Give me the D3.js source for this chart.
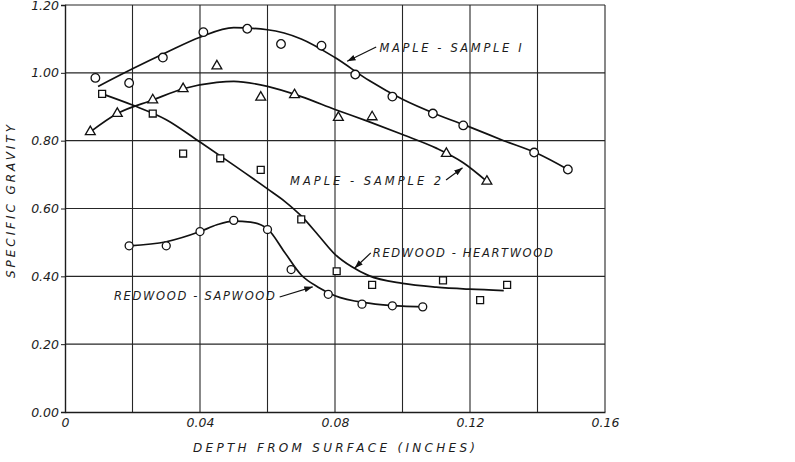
<!DOCTYPE html>
<html>
<head>
<meta charset="utf-8">
<script src="https://cdn.jsdelivr.net/npm/d3@7"></script>
<style>
  body { margin: 0; background: #fff; }
  svg text { font-family: "DejaVu Sans", sans-serif; font-style: italic; fill: #1c1c1c; }
</style>
</head>
<body>
<svg id="chart" width="795" height="462"></svg>
<script>
// tick labels and grid
const xTicks = [0, 0.04, 0.08, 0.12, 0.16];
const xGrid = [0.02, 0.04, 0.06, 0.08, 0.10, 0.12, 0.14, 0.16];
const yTicks = [0, 0.2, 0.4, 0.6, 0.8, 1.0, 1.2];

// measured points [depth, specific gravity]
const maple1Pts = [[0.009,0.985],[0.019,0.97],[0.029,1.045],[0.041,1.12],[0.054,1.13],[0.064,1.085],
  [0.076,1.08],[0.086,0.995],[0.097,0.93],[0.109,0.88],[0.118,0.845],[0.139,0.765],[0.149,0.715]];
const maple2Pts = [[0.0075,0.826],[0.0155,0.88],[0.026,0.92],[0.035,0.953],[0.045,1.02],[0.058,0.928],
  [0.068,0.935],[0.081,0.868],[0.091,0.87],[0.113,0.762],[0.125,0.68]];
const heartPts = [[0.011,0.938],[0.026,0.88],[0.035,0.762],[0.046,0.748],[0.058,0.714],[0.070,0.568],
  [0.0805,0.415],[0.091,0.375],[0.112,0.388],[0.123,0.33],[0.131,0.375]];
const sapPts = [[0.019,0.49],[0.030,0.49],[0.040,0.532],[0.050,0.565],[0.060,0.538],[0.067,0.42],
  [0.078,0.347],[0.088,0.318],[0.097,0.313],[0.106,0.31]];

// faired curves
const maple1Fit = [[0.0098,0.96],[0.02,1.012],[0.03,1.06],[0.04,1.105],[0.05,1.133],[0.06,1.127],[0.07,1.1],
  [0.08,1.045],[0.09,0.978],[0.10,0.922],[0.11,0.878],[0.12,0.84],[0.13,0.80],[0.14,0.762],[0.149,0.715]];
const maple2Fit = [[0.0075,0.826],[0.0155,0.88],[0.026,0.92],[0.035,0.953],[0.045,0.972],[0.05,0.975],[0.06,0.96],
  [0.07,0.93],[0.08,0.892],[0.09,0.856],[0.10,0.818],[0.11,0.778],[0.118,0.735],[0.125,0.68]];
const heartFit = [[0.011,0.938],[0.02,0.905],[0.03,0.862],[0.04,0.796],[0.05,0.728],[0.06,0.658],[0.065,0.622],
  [0.07,0.578],[0.075,0.522],[0.08,0.465],[0.085,0.428],[0.09,0.402],[0.10,0.379],[0.11,0.368],[0.12,0.362],[0.13,0.358]];
const sapFit = [[0.019,0.49],[0.03,0.502],[0.04,0.532],[0.045,0.552],[0.05,0.563],[0.055,0.56],[0.06,0.54],
  [0.065,0.472],[0.07,0.404],[0.075,0.368],[0.08,0.343],[0.09,0.321],[0.10,0.312],[0.106,0.31]];

const labels = ["MAPLE - SAMPLE I", "MAPLE - SAMPLE 2", "REDWOOD - HEARTWOOD", "REDWOOD - SAPWOOD"];

const svg = d3.select("#chart");
const margin = {left: 65, right: 190, top: 5, bottom: 50};
const W = 795, H = 462;

const x = d3.scaleLinear().domain([0, 0.16]).range([margin.left, W - margin.right]);
const y = d3.scaleLinear().domain([0, 1.2]).range([H - margin.bottom, margin.top]);

// grid
const grid = svg.append("g").attr("stroke", "#262626").attr("stroke-width", 1.1);
grid.selectAll(".vg").data(xGrid).enter().append("line")
  .attr("x1", d => x(d)).attr("x2", d => x(d))
  .attr("y1", y(0)).attr("y2", y(1.2));
grid.selectAll(".hg").data(yTicks.slice(1)).enter().append("line")
  .attr("x1", x(0)).attr("x2", x(0.16))
  .attr("y1", d => y(d)).attr("y2", d => y(d));

// axes
svg.append("g")
  .attr("transform", `translate(0,${y(0)})`)
  .call(d3.axisBottom(x).tickValues(xTicks).tickSize(0).tickPadding(6)
    .tickFormat(d => d === 0 ? "0" : d3.format(".2f")(d)))
  .call(g => g.select(".domain").attr("stroke", "#1c1c1c").attr("stroke-width", 1.4))
  .selectAll("text").attr("font-size", 12.5).attr("font-family", "DejaVu Sans").attr("font-style", "italic");

svg.append("g")
  .attr("transform", `translate(${x(0)},0)`)
  .call(d3.axisLeft(y).tickValues(yTicks).tickSize(4).tickPadding(2).tickFormat(d3.format(".2f")))
  .call(g => g.select(".domain").attr("stroke", "#1c1c1c").attr("stroke-width", 1.4))
  .call(g => g.selectAll(".tick line").attr("stroke", "#1c1c1c"))
  .selectAll("text").attr("font-size", 12.5).attr("font-family", "DejaVu Sans").attr("font-style", "italic");

// axis titles
svg.append("text")
  .attr("x", 193).attr("y", 452)
  .attr("font-size", 12).attr("textLength", 282).attr("lengthAdjust", "spacing")
  .text("DEPTH  FROM  SURFACE  (INCHES)");

svg.append("text")
  .attr("transform", "translate(15,278) rotate(-90)")
  .attr("font-size", 12).attr("textLength", 153).attr("lengthAdjust", "spacing")
  .text("SPECIFIC  GRAVITY");

// curves
const line = d3.line().x(d => x(d[0])).y(d => y(d[1])).curve(d3.curveMonotoneX);
[maple1Fit, maple2Fit, heartFit, sapFit].forEach(f => {
  svg.append("path").attr("d", line(f))
    .attr("fill", "none").attr("stroke", "#111").attr("stroke-width", 1.7);
});

// markers
function drawMarks(pts, type, size) {
  svg.append("g").selectAll("path").data(pts).enter().append("path")
    .attr("transform", d => `translate(${x(d[0])},${y(d[1])})`)
    .attr("d", d3.symbol().type(type).size(size))
    .attr("fill", "#fff").attr("stroke", "#111").attr("stroke-width", 1.3);
}
drawMarks(maple1Pts, d3.symbolCircle, 58);
drawMarks(maple2Pts, d3.symbolTriangle, 42);
drawMarks(heartPts, d3.symbolSquare, 48);
drawMarks(sapPts, d3.symbolCircle, 50);

// annotations: text anchor point and arrow [from, to] in data units
const notes = [
  {text: labels[0], at: [0.0932, 1.06], len: 142, arrow: [[0.0922, 1.076], [0.0836, 1.034]]},
  {text: labels[1], at: [0.0667, 0.669], len: 151, arrow: [[0.1129, 0.684], [0.1178, 0.72]]},
  {text: labels[2], at: [0.0912, 0.456], len: 180, arrow: [[0.0906, 0.469], [0.0858, 0.424]]},
  {text: labels[3], at: [0.0145, 0.331], len: 161, arrow: [[0.0636, 0.339], [0.0734, 0.369]]}
];

svg.append("defs").append("marker")
  .attr("id", "ah").attr("viewBox", "0 0 10 10").attr("refX", 10).attr("refY", 5)
  .attr("markerWidth", 7).attr("markerHeight", 7).attr("orient", "auto")
  .append("path").attr("d", "M0,1.5 L10,5 L0,8.5 Z").attr("fill", "#111");

notes.forEach(n => {
  svg.append("text")
    .attr("x", x(n.at[0])).attr("y", y(n.at[1]))
    .attr("font-size", 11.5).attr("textLength", n.len).attr("lengthAdjust", "spacing")
    .text(n.text);
  svg.append("line")
    .attr("x1", x(n.arrow[0][0])).attr("y1", y(n.arrow[0][1]))
    .attr("x2", x(n.arrow[1][0])).attr("y2", y(n.arrow[1][1]))
    .attr("stroke", "#111").attr("stroke-width", 1.2)
    .attr("marker-end", "url(#ah)");
});
</script>
</body>
</html>
